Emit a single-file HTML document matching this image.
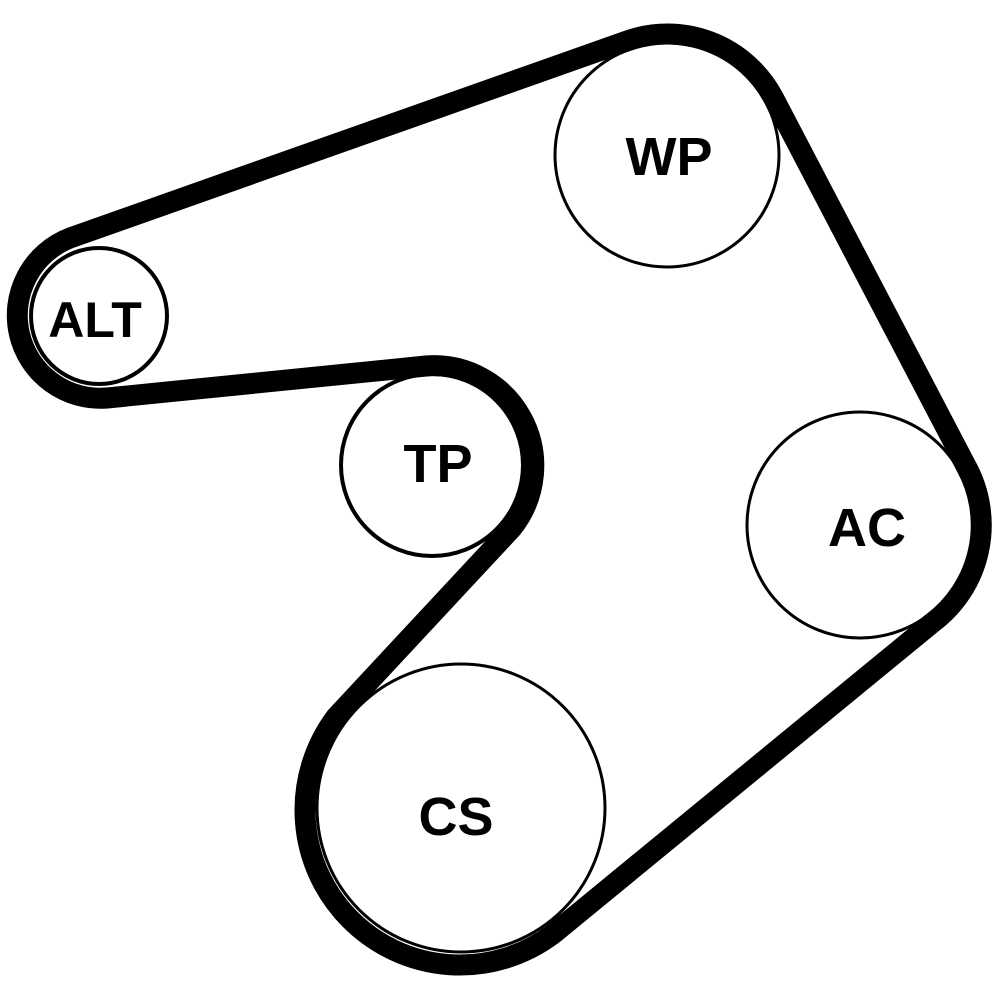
<!DOCTYPE html>
<html><head><style>html,body{margin:0;padding:0;background:#fff}</style></head><body>
<svg width="1000" height="1000" viewBox="0 0 1000 1000" xmlns="http://www.w3.org/2000/svg">
<g fill="none" stroke="#000">
<path d="M 70 238 L 627 41 A 120 120 0 0 1 773 97 L 966 466 A 122 122 0 0 1 932 623 L 553 934 A 155 155 0 0 1 336 717 L 512 528 A 100 100 0 0 0 426 366 L 107 398 A 83 83 0 0 1 70 238 Z" stroke-width="21" stroke-linejoin="round"/>
<circle cx="667" cy="155" r="112" stroke-width="3"/>
<circle cx="99" cy="316" r="68" stroke-width="4"/>
<circle cx="432" cy="465" r="91" stroke-width="4"/>
<circle cx="860" cy="525" r="113" stroke-width="3"/>
<circle cx="461" cy="808" r="144" stroke-width="3"/>
</g>
<g font-family="Liberation Sans, sans-serif" font-weight="bold" font-size="54" text-anchor="middle" fill="#000">
<text x="669" y="175">WP</text>
<text x="95" y="337" font-size="50">ALT</text>
<text x="438" y="482">TP</text>
<text x="867" y="546">AC</text>
<text x="456" y="835">CS</text>
</g>
</svg>
</body></html>
